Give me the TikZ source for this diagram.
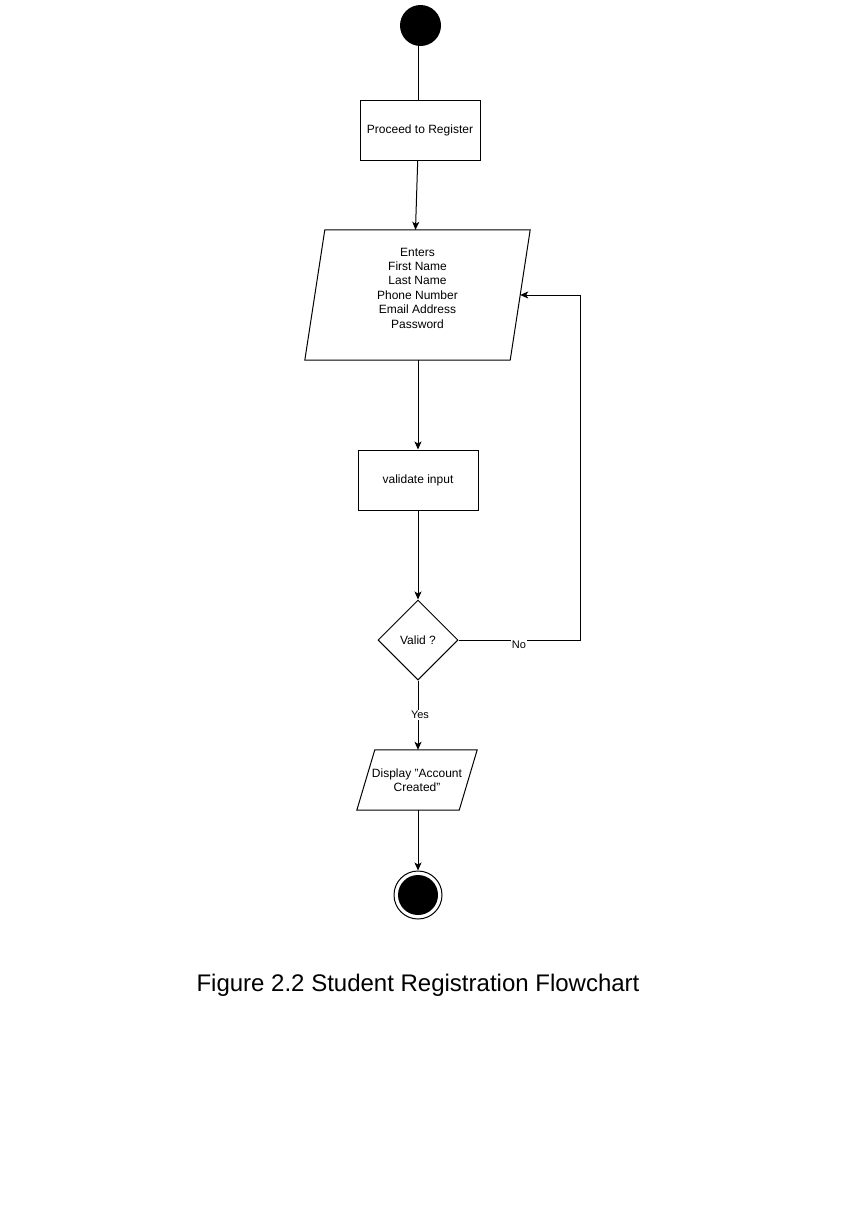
\documentclass[tikz,border=0pt]{standalone}
\usepackage{fontspec}
\setmainfont{Liberation Sans}
\usetikzlibrary{shapes.geometric,arrows.meta}
\begin{document}
\begin{tikzpicture}[x=1pt,y=-1pt,
  every node/.style={font=\fontsize{12}{14.4}\selectfont, align=center, inner sep=0pt},
  procbox/.style={draw, line width=1pt, minimum width=120pt, minimum height=60pt},
  arr/.style={line width=1pt, -{Stealth[length=8pt,width=7pt,inset=2pt]}},
  plain/.style={line width=1pt},
  edgelbl/.style={fill=white, font=\fontsize{11}{13}\selectfont, inner sep=1pt}]
\useasboundingbox (0,0) rectangle (857,1210);

% start
\node[circle, fill=black, minimum size=41pt] (start) at (420.5,25.5) {};
% proceed
\node[procbox] (reg) at (420,130) {Proceed to Register};
% enters parallelogram
\node[minimum width=225pt, minimum height=130pt] (enter) at (417.5,295) {};
\draw[plain] ([xshift=20pt]enter.north west) -- (enter.north east)
  -- ([xshift=-20pt]enter.south east) -- (enter.south west) -- cycle;
\node (entertext) at (417.5,288) {Enters\\First Name\\Last Name\\Phone Number\\Email Address\\Password};
% validate
\node[procbox] (val) at (418,480) {validate input};
% decision
\node[diamond, draw, line width=1pt, aspect=1, minimum width=80pt, minimum height=80pt, inner sep=0pt] (dec) at (418,640) {Valid ?};
% display parallelogram
\node[minimum width=120pt, minimum height=60pt] (disp) at (417,780) {Display \symbol{34}Account\\Created\symbol{34}};
\draw[plain] ([xshift=18pt]disp.north west) -- (disp.north east)
  -- ([xshift=-18pt]disp.south east) -- (disp.south west) -- cycle;
% end
\node[circle, draw, line width=1pt, minimum size=48pt] (end) at (418,895) {};
\fill (end.center) circle (20pt);

% connectors
\draw[plain] (start.south -| 418,0) -- (reg.north -| 418,0);
\draw[arr] ([xshift=-2.3pt]reg.south) -- ([xshift=-2pt]enter.north);
\draw[arr] (enter.south -| val.north) -- (val.north);
\draw[arr] (val.south) -- (dec.north);
\coordinate (nocorner) at (580,640);
\coordinate (nocorner2) at (580,295);
\draw[arr] (dec.east) -- (nocorner) -- (nocorner2) -- ([xshift=-10pt]enter.east);
\node[edgelbl] (nolbl) at (519,645) {No};
\draw[arr] (dec.south) -- (disp.north -| dec.south);
\node[edgelbl] (yeslbl) at (420,715) {Yes};
\draw[arr] (disp.south -| end.north) -- (end.north);

% caption
\node[font=\fontsize{24}{28}\selectfont] (cap) at (418,985) {Figure 2.2 Student Registration Flowchart};
\end{tikzpicture}
\end{document}
